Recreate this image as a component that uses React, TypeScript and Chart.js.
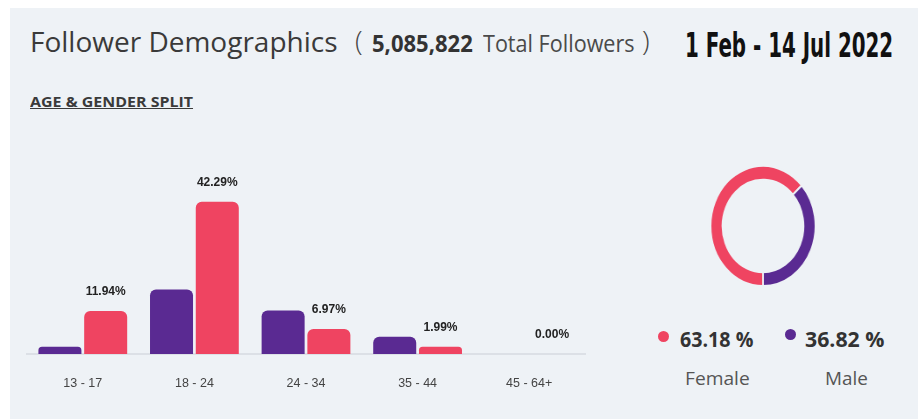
import React, { useEffect, useLayoutEffect, useRef, useState } from "react";
import { Chart, registerables } from "chart.js";

Chart.register(...registerables);

const ageGroups = ["13 - 17", "18 - 24", "24 - 34", "35 - 44", "45 - 64+"];
const maleShare = [2.0, 17.9, 12.1, 4.8, 0.0];
const femaleShare = [11.94, 42.29, 6.97, 1.99, 0.0];
const genderLabels = ["Female", "Male"];
const genderShare = [63.18, 36.82];

const RED = "#ef4461";
const PURPLE = "#5a2a92";
const BG = "#eef2f6";

type FitProps = { text: string; x: number; top: number; w: number; style: React.CSSProperties };
function Fit({ text, x, top, w, style }: FitProps) {
  const ref = useRef<HTMLSpanElement>(null);
  const [k, setK] = useState(1);
  useLayoutEffect(() => {
    const el = ref.current;
    if (el && el.offsetWidth > 0) setK(w / el.offsetWidth);
  }, [text, w]);
  return (
    <span
      ref={ref}
      style={{
        position: "absolute",
        left: x,
        top,
        whiteSpace: "nowrap",
        transform: `scaleX(${k})`,
        transformOrigin: "left top",
        ...style,
      }}
    >
      {text}
    </span>
  );
}

function BarChart() {
  const ref = useRef<HTMLCanvasElement>(null);
  useEffect(() => {
    if (!ref.current) return;
    const labelPlugin = {
      id: "femaleLabels",
      afterDatasetsDraw(chart: any) {
        const ctx = chart.ctx;
        const meta = chart.getDatasetMeta(1);
        ctx.save();
        ctx.font = "bold 12px 'Liberation Sans', Arial, sans-serif";
        ctx.fillStyle = "#222";
        ctx.textAlign = "center";
        ctx.textBaseline = "middle";
        meta.data.forEach((bar: any, i: number) => {
          ctx.fillText(femaleShare[i].toFixed(2) + "%", bar.x, bar.y - 19);
        });
        ctx.restore();
      },
    };
    const chart = new Chart(ref.current, {
      type: "bar",
      data: {
        labels: ageGroups,
        datasets: [
          {
            label: "Male",
            data: maleShare,
            backgroundColor: PURPLE,
            borderRadius: 6,
            categoryPercentage: 0.82,
            barPercentage: 0.94,
          },
          {
            label: "Female",
            data: femaleShare,
            backgroundColor: RED,
            borderRadius: 6,
            categoryPercentage: 0.82,
            barPercentage: 0.94,
          },
        ],
      },
      options: {
        animation: false,
        responsive: true,
        maintainAspectRatio: false,
        layout: { padding: { left: 7, right: 15, top: 34, bottom: 0 } },
        plugins: { legend: { display: false }, tooltip: { enabled: false } },
        scales: {
          x: {
            grid: { display: false, drawTicks: false },
            border: { display: true, color: "#dce0e6", width: 2 },
            ticks: {
              padding: 22,
              color: "#444",
              font: { size: 12.5, family: "'Liberation Sans', Arial, sans-serif" },
            },
          },
          y: { display: false, min: 0, max: 50 },
        },
      },
      plugins: [labelPlugin],
    });
    return () => chart.destroy();
  }, []);
  return (
    <div style={{ position: "absolute", left: 20, top: 140, width: 580, height: 273 }}>
      <canvas ref={ref} />
    </div>
  );
}

function Donut() {
  const ref = useRef<HTMLCanvasElement>(null);
  useEffect(() => {
    if (!ref.current) return;
    const chart = new Chart(ref.current, {
      type: "doughnut",
      data: {
        labels: genderLabels,
        datasets: [
          {
            data: genderShare,
            backgroundColor: [RED, PURPLE],
            borderColor: BG,
            borderWidth: 2,
          },
        ],
      },
      options: {
        animation: false,
        responsive: true,
        maintainAspectRatio: false,
        rotation: 180,
        cutout: "77%",
        plugins: { legend: { display: false }, tooltip: { enabled: false } },
      },
    });
    return () => chart.destroy();
  }, []);
  return (
    <div
      style={{
        position: "absolute",
        left: 702,
        top: 165,
        width: 122,
        height: 122,
        transform: "scaleX(0.875)",
        transformOrigin: "center center",
      }}
    >
      <canvas ref={ref} />
    </div>
  );
}

const OPEN = "'Open Sans', 'Noto Sans', sans-serif";

export default function App() {
  return (
    <div style={{ position: "fixed", left: 0, top: 0, width: 922, height: 419, background: "#fff", overflow: "hidden" }}>
      <div style={{ position: "absolute", left: 10, top: 8, width: 908, height: 411, background: BG }} />
      <Fit text="Follower Demographics" x={30} top={27} w={308}
        style={{ fontFamily: OPEN, fontSize: 28, lineHeight: "28px", color: "#3a3a3a", fontWeight: 400 }} />
      <Fit text="(" x={355} top={26} w={8}
        style={{ fontFamily: OPEN, fontSize: 28, lineHeight: "28px", color: "#444", fontWeight: 300 }} />
      <Fit text="5,085,822" x={372} top={31} w={101}
        style={{ fontFamily: OPEN, fontSize: 24, lineHeight: "24px", color: "#333", fontWeight: 700 }} />
      <Fit text="Total Followers" x={483} top={31} w={152}
        style={{ fontFamily: OPEN, fontSize: 24, lineHeight: "24px", color: "#4a4a4a", fontWeight: 400 }} />
      <Fit text=")" x={642} top={26} w={8}
        style={{ fontFamily: OPEN, fontSize: 28, lineHeight: "28px", color: "#444", fontWeight: 300 }} />
      <Fit text="1 Feb - 14 Jul 2022" x={685} top={29} w={208}
        style={{ fontFamily: "'DejaVu Sans Condensed', 'DejaVu Sans', sans-serif", fontSize: 33, lineHeight: "33px", color: "#111", fontWeight: 700 }} />
      <Fit text="AGE & GENDER SPLIT" x={30} top={94.5} w={163}
        style={{ fontFamily: OPEN, fontSize: 14, lineHeight: "14px", color: "#3a3a3a", fontWeight: 700, textDecoration: "underline" }} />
      <BarChart />
      <Donut />
      <div style={{ position: "absolute", left: 657.5, top: 330.5, width: 11, height: 11, borderRadius: "50%", background: RED }} />
      <div style={{ position: "absolute", left: 784.5, top: 328.5, width: 11, height: 11, borderRadius: "50%", background: PURPLE }} />
      <Fit text={genderShare[0].toFixed(2) + " %"} x={680} top={328.5} w={73}
        style={{ fontFamily: OPEN, fontSize: 21, lineHeight: "21px", color: "#333", fontWeight: 700 }} />
      <Fit text={genderShare[1].toFixed(2) + " %"} x={805} top={328.5} w={79}
        style={{ fontFamily: OPEN, fontSize: 21, lineHeight: "21px", color: "#333", fontWeight: 700 }} />
      <Fit text={genderLabels[0]} x={685} top={369} w={65}
        style={{ fontFamily: OPEN, fontSize: 18, lineHeight: "18px", color: "#555", fontWeight: 400 }} />
      <Fit text={genderLabels[1]} x={825} top={369} w={43}
        style={{ fontFamily: OPEN, fontSize: 18, lineHeight: "18px", color: "#555", fontWeight: 400 }} />
    </div>
  );
}
